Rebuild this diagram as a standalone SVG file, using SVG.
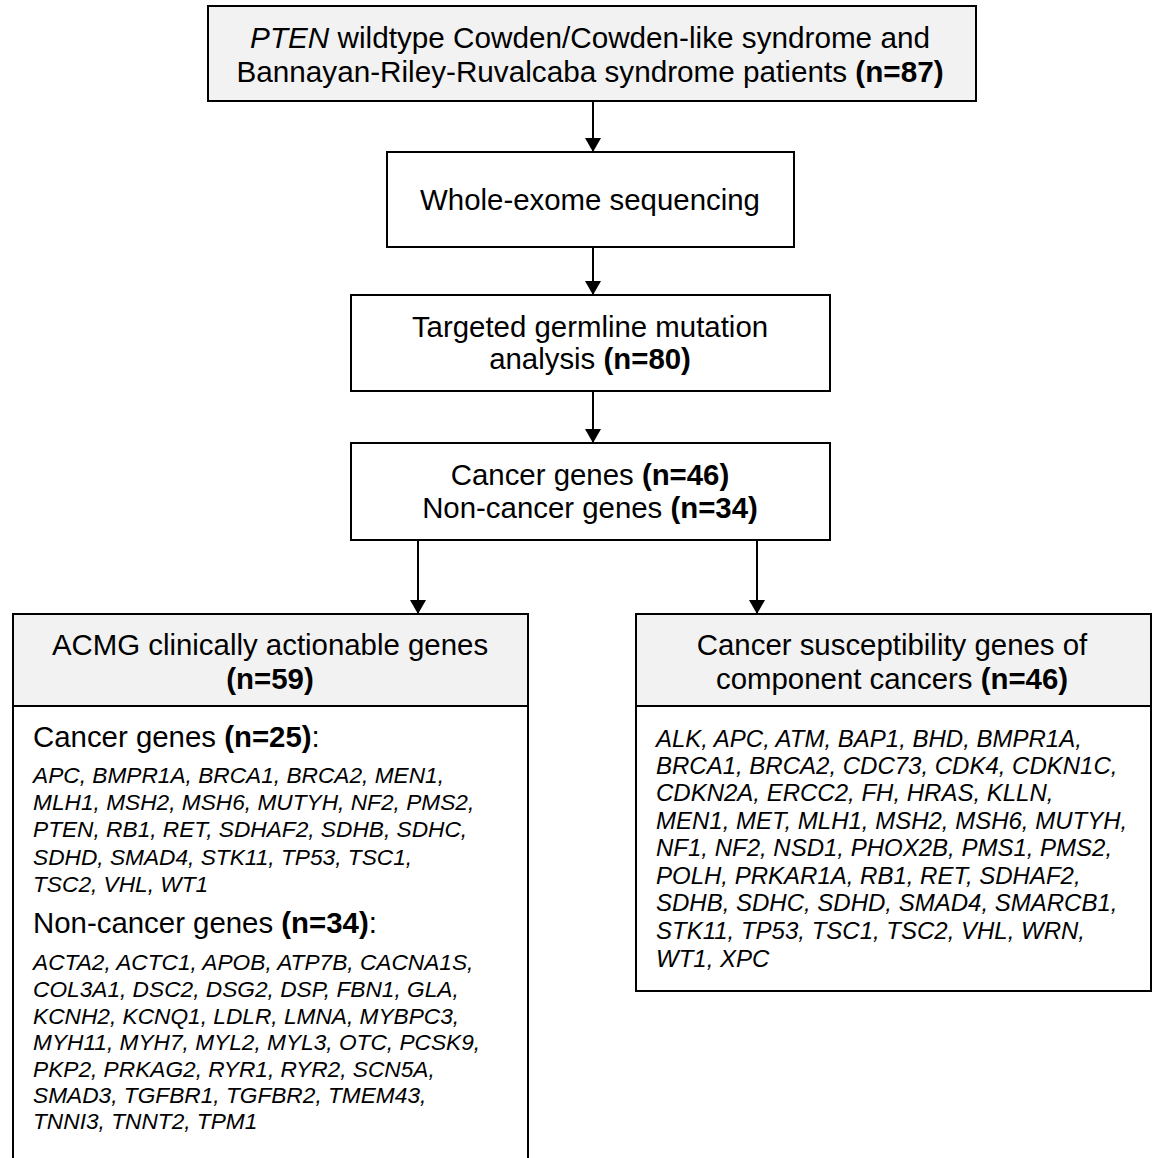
<svg xmlns="http://www.w3.org/2000/svg" width="1153" height="1158" viewBox="0 0 1153 1158">
<defs>
<marker id="ah" viewBox="0 0 14 16" refX="14" refY="8" markerWidth="14" markerHeight="16" markerUnits="userSpaceOnUse" orient="auto">
<path d="M0,0 L14,8 L0,16 Z" fill="#000"/>
</marker>
<style>
.box{stroke:#000;stroke-width:2;}
.gray{fill:#f2f2f2;}
.white{fill:#fff;}
text{font-family:"Liberation Sans",Arial,sans-serif;fill:#000;}
.t{font-size:29.4px;text-anchor:middle;}
.top{font-size:29.7px;}
.h{font-size:29.4px;}
.g{font-size:22.7px;font-style:italic;}
.g2{font-size:24px;font-style:italic;}
.b{font-weight:bold;}
.i{font-style:italic;}
.conn line{stroke:#000;stroke-width:2;marker-end:url(#ah);}
</style>
</defs>
<rect width="1153" height="1158" fill="#fff"/>
<g id="connectors" class="conn">
<line x1="593" y1="102" x2="593" y2="152"/>
<line x1="593" y1="248" x2="593" y2="295"/>
<line x1="593" y1="392" x2="593" y2="443"/>
<line x1="418" y1="541" x2="418" y2="614"/>
<line x1="757" y1="541" x2="757" y2="614"/>
</g>
<g id="node-patients">
<rect class="box gray" x="208" y="6" width="768" height="95"/>
<text class="t top" x="590" y="48"><tspan class="i">PTEN</tspan> wildtype Cowden/Cowden-like syndrome and</text>
<text class="t top" x="590" y="82">Bannayan-Riley-Ruvalcaba syndrome patients <tspan class="b">(n=87)</tspan></text>
</g>
<g id="node-wes">
<rect class="box white" x="387" y="152" width="407" height="95"/>
<text class="t" x="590" y="210">Whole-exome sequencing</text>
</g>
<g id="node-targeted">
<rect class="box white" x="351" y="295" width="479" height="96"/>
<text class="t" x="590" y="337">Targeted germline mutation</text>
<text class="t" x="590" y="369">analysis <tspan class="b">(n=80)</tspan></text>
</g>
<g id="node-genes">
<rect class="box white" x="351" y="443" width="479" height="97"/>
<text class="t" x="590" y="485">Cancer genes <tspan class="b">(n=46)</tspan></text>
<text class="t" x="590" y="518">Non-cancer genes <tspan class="b">(n=34)</tspan></text>
</g>
<g id="node-acmg">
<rect class="box white" x="13" y="614" width="515" height="570"/>
<rect class="box gray" x="13" y="614" width="515" height="92"/>
<text class="t" x="270" y="655">ACMG clinically actionable genes</text>
<text class="t b" x="270" y="689">(n=59)</text>
<text class="h" x="33" y="747">Cancer genes <tspan class="b">(n=25)</tspan>:</text>
<text class="g" x="33" y="783">APC, BMPR1A, BRCA1, BRCA2, MEN1,</text>
<text class="g" x="33" y="810">MLH1, MSH2, MSH6, MUTYH, NF2, PMS2,</text>
<text class="g" x="33" y="837">PTEN, RB1, RET, SDHAF2, SDHB, SDHC,</text>
<text class="g" x="33" y="865">SDHD, SMAD4, STK11, TP53, TSC1,</text>
<text class="g" x="33" y="892">TSC2, VHL, WT1</text>
<text class="h" x="33" y="933">Non-cancer genes <tspan class="b">(n=34)</tspan>:</text>
<text class="g" x="33" y="970">ACTA2, ACTC1, APOB, ATP7B, CACNA1S,</text>
<text class="g" x="33" y="997">COL3A1, DSC2, DSG2, DSP, FBN1, GLA,</text>
<text class="g" x="33" y="1024">KCNH2, KCNQ1, LDLR, LMNA, MYBPC3,</text>
<text class="g" x="33" y="1050">MYH11, MYH7, MYL2, MYL3, OTC, PCSK9,</text>
<text class="g" x="33" y="1077">PKP2, PRKAG2, RYR1, RYR2, SCN5A,</text>
<text class="g" x="33" y="1103">SMAD3, TGFBR1, TGFBR2, TMEM43,</text>
<text class="g" x="33" y="1129">TNNI3, TNNT2, TPM1</text>
</g>
<g id="node-susceptibility">
<rect class="box white" x="636" y="614" width="515" height="377"/>
<rect class="box gray" x="636" y="614" width="515" height="92"/>
<text class="t" x="892" y="655">Cancer susceptibility genes of</text>
<text class="t" x="892" y="689">component cancers <tspan class="b">(n=46)</tspan></text>
<text class="g2" x="656" y="747">ALK, APC, ATM, BAP1, BHD, BMPR1A,</text>
<text class="g2" x="656" y="774">BRCA1, BRCA2, CDC73, CDK4, CDKN1C,</text>
<text class="g2" x="656" y="801">CDKN2A, ERCC2, FH, HRAS, KLLN,</text>
<text class="g2" x="656" y="829">MEN1, MET, MLH1, MSH2, MSH6, MUTYH,</text>
<text class="g2" x="656" y="856">NF1, NF2, NSD1, PHOX2B, PMS1, PMS2,</text>
<text class="g2" x="656" y="884">POLH, PRKAR1A, RB1, RET, SDHAF2,</text>
<text class="g2" x="656" y="911">SDHB, SDHC, SDHD, SMAD4, SMARCB1,</text>
<text class="g2" x="656" y="939">STK11, TP53, TSC1, TSC2, VHL, WRN,</text>
<text class="g2" x="656" y="967">WT1, XPC</text>
</g>
</svg>
